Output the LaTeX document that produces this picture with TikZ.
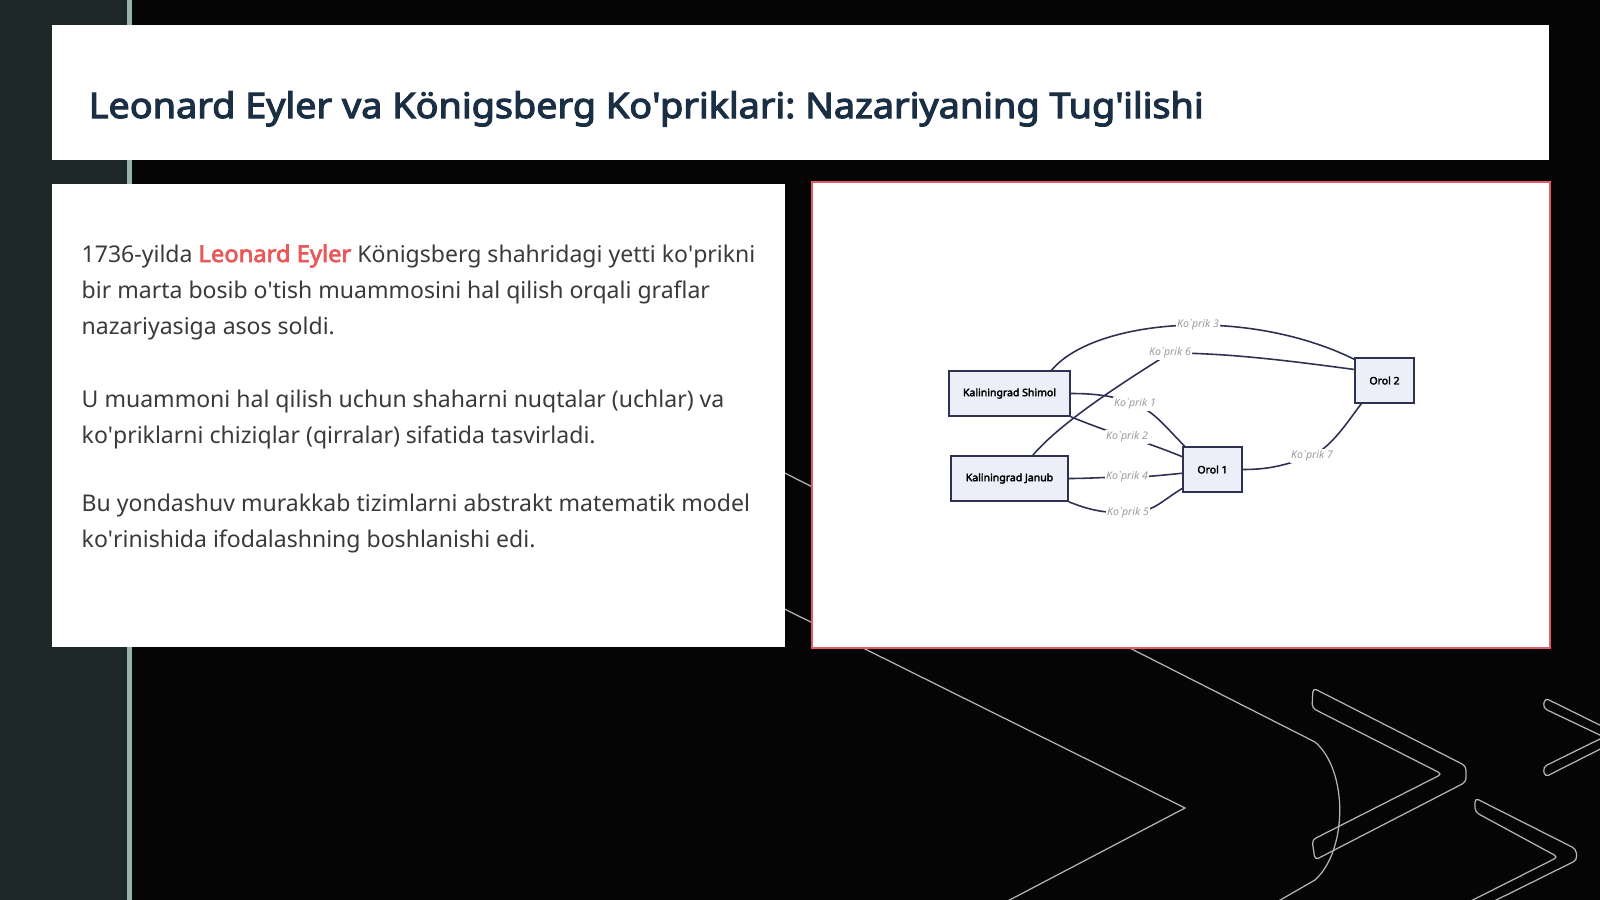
\documentclass[tikz,border=0pt]{standalone}
\usepackage{fontspec}
\setmainfont{Noto Sans}[BoldFont={Noto Sans}, BoldFeatures={FakeBold=3, FakeStretch=1.03}]
\newfontfamily\titlefont{Noto Sans}[FakeBold=3.2, FakeStretch=1.075]
\frenchspacing
\pgfdeclarelayer{back}
\pgfdeclarelayer{edges}
\pgfsetlayers{back,edges,main}
\definecolor{bgc}{HTML}{050506}
\definecolor{strip}{HTML}{1E2927}
\definecolor{stripline}{HTML}{93B3AB}
\definecolor{titlec}{HTML}{1B2F44}
\definecolor{bodyc}{HTML}{3A3A3A}
\definecolor{hl}{HTML}{E8595C}
\definecolor{redb}{HTML}{E45A66}
\definecolor{nodefill}{HTML}{ECEEF8}
\definecolor{nodedraw}{HTML}{2F3152}
\definecolor{edgec}{HTML}{2F3152}
\definecolor{lblc}{HTML}{9A9A9A}
\definecolor{decoc}{HTML}{B5B5B5}
\newcommand{\qs}{\textquotesingle}
\newcommand{\kp}[1]{Ko\textasciigrave prik #1}
\begin{document}
\begin{tikzpicture}[x=0.01cm,y=-0.01cm,
  decoline/.style={draw=decoc, line width=0.35pt},
  gnode/.style={draw=nodedraw, fill=nodefill, line width=0.45pt, minimum height=0.45cm, inner sep=0pt,
    font=\fontsize{2.9}{3.2}\selectfont\bfseries, text=black},
  blabel/.style={fill=white, inner sep=0.4pt, font=\fontsize{3.0}{3.2}\selectfont\itshape, text=lblc},
  bridge/.style={draw=edgec, line width=0.45pt},
  bodyline/.style={anchor=base west, inner sep=0pt, font=\fontsize{6.55}{10.2}\selectfont, text=bodyc},
]
\useasboundingbox (0,0) rectangle (1600,900);
\begin{pgfonlayer}{back}
\clip (0,0) rectangle (1600,900);
\fill[bgc] (0,0) rectangle (1600,900);
\fill[strip] (0,0) rectangle (129,900);
\fill[stripline] (126.5,0) rectangle (131.5,900);
% decorative lines
\draw[decoline] (700,430) -- (1315,742) .. controls (1348,770) and (1348,850) .. (1315,880) -- (1275,903);
\draw[decoline] (700,567) -- (1185,808) -- (1000,905);
\draw[decoline, rounded corners=0.04cm] (1313,688) -- (1466,766) -- (1466,782) -- (1315,860) -- (1312,840) -- (1442,774) -- (1312,708) -- cycle;
\draw[decoline, rounded corners=0.04cm] (1447,913) -- (1558,857) -- (1475,812) -- (1475,798) -- (1576,849) -- (1577,860) -- (1470,913);
\draw[decoline, rounded corners=0.04cm] (1545,698) -- (1624,737) -- (1545,777) -- (1543,767) -- (1604,737) -- (1543,708) -- cycle;
% panels
\fill[white] (52,25) rectangle (1549,160);
\fill[white] (52,184) rectangle (785,647);
\draw[redb, fill=white, line width=0.65pt] (812,182) rectangle (1550,648);
\end{pgfonlayer}

% title
\node[anchor=base west, inner sep=0pt, font=\fontsize{10}{12}\selectfont\titlefont, text=titlec] (title) at (88,118)
  {Leonard Eyler va Königsberg Ko\qs priklari: Nazariyaning Tug\qs ilishi};

% body text
\node[bodyline] (p1a) at (81,262) {1736-yilda {\bfseries\color{hl}Leonard Eyler} Königsberg shahridagi yetti ko\qs prikni};
\node[bodyline] (p1b) at (81,298) {bir marta bosib o\qs tish muammosini hal qilish orqali graflar};
\node[bodyline] (p1c) at (81,334) {nazariyasiga asos soldi.};
\node[bodyline] (p2a) at (81,407) {U muammoni hal qilish uchun shaharni nuqtalar (uchlar) va};
\node[bodyline] (p2b) at (81,443) {ko\qs priklarni chiziqlar (qirralar) sifatida tasvirladi.};
\node[bodyline] (p3a) at (81,511) {Bu yondashuv murakkab tizimlarni abstrakt matematik model};
\node[bodyline] (p3b) at (81,547) {ko\qs rinishida ifodalashning boshlanishi edi.};

% graph nodes
\node[gnode, minimum width=1.21cm] (shimol) at (1009.5,393.5) {Kaliningrad Shimol};
\node[gnode, minimum width=1.17cm] (janub) at (1009.5,478.5) {Kaliningrad Janub};
\node[gnode, minimum width=0.59cm] (orol1) at (1212.5,469.5) {Orol 1};
\node[gnode, minimum width=0.59cm] (orol2) at (1384.5,380.5) {Orol 2};

% edge labels
\node[blabel] (l1) at (1135,404) {\kp{1}};
\node[blabel] (l2) at (1127,437) {\kp{2}};
\node[blabel] (l3) at (1198,325) {\kp{3}};
\node[blabel] (l4) at (1127,477) {\kp{4}};
\node[blabel] (l5) at (1128,513) {\kp{5}};
\node[blabel] (l6) at (1170,353) {\kp{6}};
\node[blabel] (l7) at (1312,456) {\kp{7}};

\begin{pgfonlayer}{edges}
\draw[bridge] (shimol.29) .. controls +(25,-30) and +(-60,0) .. (l3.center) .. controls +(60,0) and +(-40,-20) .. (orol2.145);
\draw[bridge] (janub.45) .. controls +(30,-35) and +(-40,25) .. (l6.center) .. controls +(60,0) and +(-60,-8) .. (orol2.160);
\draw[bridge] (shimol.east) .. controls +(25,0) and +(-20,-8) .. (l1.center) .. controls +(20,8) and +(-20,-20) .. (orol1.140);
\draw[bridge] (shimol.south east) .. controls +(20,8) and +(-20,-6) .. (l2.center) .. controls +(20,6) and +(-20,-8) .. (orol1.157);
\draw[bridge] (janub.east) .. controls +(20,0) and +(-20,0) .. (l4.center) .. controls +(20,0) and +(-20,2) .. (orol1.187);
\draw[bridge] (janub.south east) .. controls +(20,8) and +(-25,0) .. (l5.center) .. controls +(25,0) and +(-20,12) .. (orol1.212);
\draw[bridge] (orol1.east) .. controls +(30,0) and +(-25,8) .. (l7.center) .. controls +(20,-10) and +(-15,20) .. (orol2.225);
\end{pgfonlayer}
\end{tikzpicture}
\end{document}
